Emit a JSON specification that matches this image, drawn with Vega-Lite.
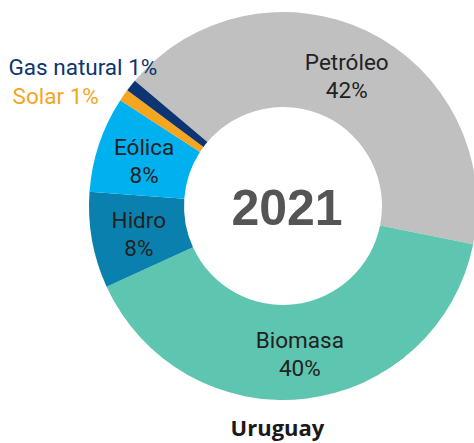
{
  "$schema": "https://vega.github.io/schema/vega-lite/v6.json",
  "width": 388,
  "height": 388,
  "autosize": {"type": "none"},
  "padding": {"left": 89, "top": 12, "right": 0, "bottom": 43},
  "background": "white",
  "config": {"view": {"stroke": null}},
  "title": {"text": "Uruguay", "orient": "bottom", "offset": -2, "dx": -5.5, "font": "Open Sans", "fontSize": 22, "fontWeight": "bold", "color": "#1a1a1a"},
  "data": {"values": [
    {"fuente": "Petróleo", "valor": 42, "pct": "42%", "orden": 1},
    {"fuente": "Biomasa", "valor": 40, "pct": "40%", "orden": 2},
    {"fuente": "Hidro", "valor": 8, "pct": "8%", "orden": 3},
    {"fuente": "Eólica", "valor": 8, "pct": "8%", "orden": 4},
    {"fuente": "Solar", "valor": 1, "pct": "1%", "orden": 5},
    {"fuente": "Gas natural", "valor": 1, "pct": "1%", "orden": 6}
  ]},
  "encoding": {
    "theta": {"field": "valor", "type": "quantitative", "stack": true, "scale": {"range": [-0.8692, 5.414]}},
    "order": {"field": "orden", "type": "quantitative"},
    "color": {"field": "fuente", "type": "nominal", "legend": null,
      "scale": {"domain": ["Petróleo", "Biomasa", "Hidro", "Eólica", "Solar", "Gas natural"],
                "range": ["#c0c0c0", "#5ec5b0", "#0a80ae", "#00b0ef", "#f6a51e", "#0c3571"]}}
  },
  "layer": [
    {"mark": {"type": "arc", "outerRadius": 194, "innerRadius": 99}},
    {"mark": {"type": "text", "radius": 146.5, "dy": -11, "font": "Roboto", "fontSize": 22.5, "color": "#222222"},
     "encoding": {"color": {"value": "#222222"}, "text": {"field": "fuente", "type": "nominal", "condition": {"test": "datum.valor < 5", "value": ""}}}},
    {"mark": {"type": "text", "radius": 146.5, "dy": 17, "font": "Roboto", "fontSize": 22.5, "color": "#222222"},
     "encoding": {"color": {"value": "#222222"}, "text": {"field": "pct", "type": "nominal", "condition": {"test": "datum.valor < 5", "value": ""}}}},
    {"transform": [{"calculate": "datum.fuente + ' ' + datum.pct", "as": "etiqueta"}],
     "mark": {"type": "text", "radius": 200, "dx": 31, "dy": -14, "align": "right", "font": "Roboto", "fontSize": 22.5},
     "encoding": {"text": {"field": "etiqueta", "type": "nominal", "condition": {"test": "datum.fuente != 'Gas natural'", "value": ""}}}},
    {"transform": [{"calculate": "datum.fuente + ' ' + datum.pct", "as": "etiqueta"}],
     "mark": {"type": "text", "radius": 200, "dx": -20, "dy": 5, "align": "right", "font": "Roboto", "fontSize": 22.5},
     "encoding": {"text": {"field": "etiqueta", "type": "nominal", "condition": {"test": "datum.fuente != 'Solar'", "value": ""}}}},
    {"data": {"values": [{"anio": "2021"}]},
     "mark": {"type": "text", "dx": 4, "dy": 4, "font": "Liberation Sans", "fontSize": 50, "fontWeight": "bold", "color": "#555555"},
     "encoding": {"theta": null, "order": null, "color": null, "text": {"field": "anio", "type": "nominal"}}}
  ]
}
